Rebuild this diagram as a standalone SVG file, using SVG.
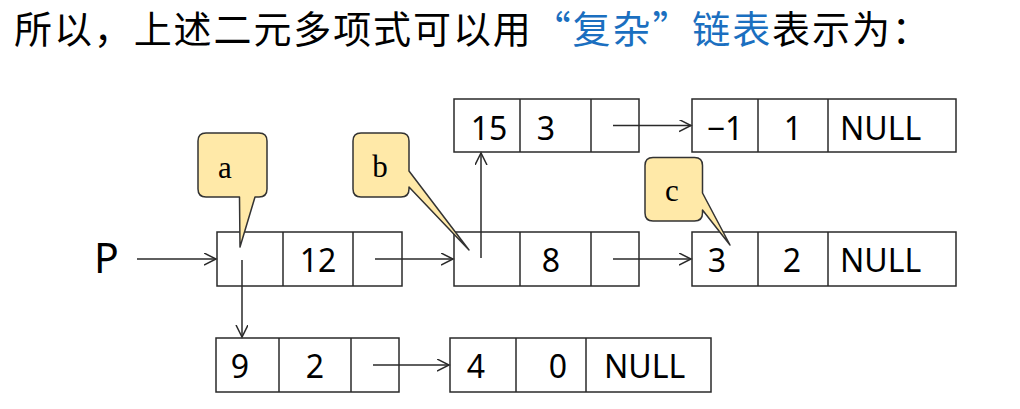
<svg xmlns="http://www.w3.org/2000/svg" width="1020" height="409" viewBox="0 0 1020 409">
<defs>
<marker id="arr" markerUnits="userSpaceOnUse" markerWidth="14" markerHeight="14" refX="12" refY="6" orient="auto">
<path d="M0,0 L12,6 L0,12" fill="none" stroke="#2a2a2a" stroke-width="1.5"/>
</marker>
<style>
.box{fill:#fff;stroke:#2a2a2a;stroke-width:1.5}
.div{stroke:#2a2a2a;stroke-width:1.5}
.t{font-family:"Noto Sans","Open Sans",sans-serif;font-size:32px;fill:#000}
.tm{text-anchor:middle}
.c{stroke:#2a2a2a;stroke-width:1.5;fill:none}
.call{fill:#FFE9A8;stroke:#333;stroke-width:1.5;stroke-linejoin:round}
.cl{font-family:"Liberation Serif",serif;font-size:31px;fill:#000;text-anchor:middle}
.title{font-family:"Noto Sans CJK SC","Noto Sans",sans-serif;font-size:38px;letter-spacing:1.9px;fill:#000}
</style>
</defs>
<rect width="1020" height="409" fill="#fff"/>
<text class="title" x="14" y="43">所以，上述二元多项式可以用<tspan fill="#1B6FC0">“复杂”链表</tspan>表示为：</text>

<g id="P"><text x="94" y="273" font-family="Noto Sans, sans-serif" font-size="41" fill="#000">P</text></g>

<g id="n1">
<rect class="box" x="217" y="232" width="185" height="54"/>
<line class="div" x1="283" y1="232" x2="283" y2="286"/>
<line class="div" x1="353" y1="232" x2="353" y2="286"/>
<text class="t tm" x="318" y="271.5">12</text>
</g>
<g id="n2">
<rect class="box" x="216" y="338" width="183" height="54"/>
<line class="div" x1="279" y1="338" x2="279" y2="392"/>
<line class="div" x1="351" y1="338" x2="351" y2="392"/>
<text class="t tm" x="240" y="377.5">9</text>
<text class="t tm" x="315" y="377.5">2</text>
</g>
<g id="n3">
<rect class="box" x="450" y="338" width="261" height="54"/>
<line class="div" x1="516" y1="338" x2="516" y2="392"/>
<line class="div" x1="586" y1="338" x2="586" y2="392"/>
<text class="t tm" x="476" y="377.5">4</text>
<text class="t tm" x="558" y="377.5">0</text>
<text class="t" x="604" y="377.5">NULL</text>
</g>
<g id="n4">
<rect class="box" x="454" y="232" width="185" height="54"/>
<line class="div" x1="520" y1="232" x2="520" y2="286"/>
<line class="div" x1="591" y1="232" x2="591" y2="286"/>
<text class="t tm" x="551" y="271.5">8</text>
</g>
<g id="n5">
<rect class="box" x="454" y="99" width="185" height="53"/>
<line class="div" x1="520" y1="99" x2="520" y2="152"/>
<line class="div" x1="591" y1="99" x2="591" y2="152"/>
<text class="t tm" x="489" y="139.5">15</text>
<text class="t tm" x="546" y="139.5">3</text>
</g>
<g id="n6">
<rect class="box" x="692" y="99" width="264" height="53"/>
<line class="div" x1="758" y1="99" x2="758" y2="152"/>
<line class="div" x1="828" y1="99" x2="828" y2="152"/>
<text class="t tm" x="725" y="139.5">−1</text>
<text class="t tm" x="793" y="139.5">1</text>
<text class="t" x="840" y="139.5">NULL</text>
</g>
<g id="n7">
<rect class="box" x="692" y="232" width="264" height="54"/>
<line class="div" x1="758" y1="232" x2="758" y2="286"/>
<line class="div" x1="828" y1="232" x2="828" y2="286"/>
<text class="t tm" x="717" y="271.5">3</text>
<text class="t tm" x="792" y="271.5">2</text>
<text class="t" x="840" y="271.5">NULL</text>
</g>

<g id="connectors">
<line class="c" x1="137" y1="259" x2="216" y2="259" marker-end="url(#arr)"/>
<line class="c" x1="375" y1="259" x2="453" y2="259" marker-end="url(#arr)"/>
<line class="c" x1="613" y1="259" x2="691" y2="259" marker-end="url(#arr)"/>
<line class="c" x1="613" y1="125.5" x2="691" y2="125.5" marker-end="url(#arr)"/>
<line class="c" x1="481" y1="258" x2="481" y2="153" marker-end="url(#arr)"/>
<line class="c" x1="242" y1="260" x2="242" y2="337" marker-end="url(#arr)"/>
<line class="c" x1="373" y1="365" x2="449" y2="365" marker-end="url(#arr)"/>
</g>

<g id="callout-a">
<path class="call" d="M206,133 H259 Q267,133 267,141 V189 Q267,197 259,197 H255 L240,247 L239.5,197 H206 Q198,197 198,189 V141 Q198,133 206,133 Z"/>
<text class="cl" x="225" y="178">a</text>
</g>
<g id="callout-b">
<path class="call" d="M361,133 H401 Q409,133 409,141 V171 L469,250 L409,187 V189 Q409,197 401,197 H361 Q353,197 353,189 V141 Q353,133 361,133 Z"/>
<text class="cl" x="380" y="177">b</text>
</g>
<g id="callout-c">
<path class="call" d="M653,157.5 H694.5 Q702.5,157.5 702.5,165.5 V193 L730,245 L702.5,210 V213 Q702.5,221 694.5,221 H653 Q645,221 645,213 V165.5 Q645,157.5 653,157.5 Z"/>
<text class="cl" x="672" y="201">c</text>
</g>
</svg>
